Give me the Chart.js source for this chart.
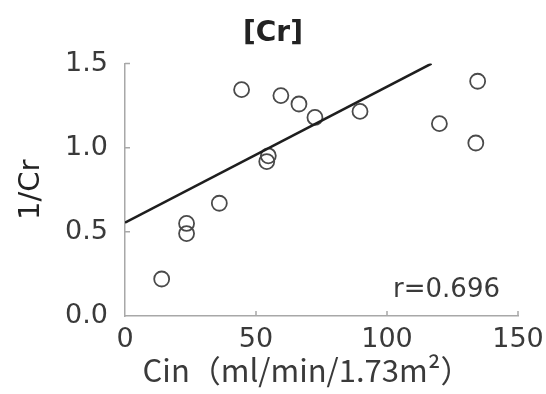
<!DOCTYPE html>
<html>
<head>
<meta charset="utf-8">
<script src="https://cdn.jsdelivr.net/npm/chart.js@4.4.1/dist/chart.umd.min.js"></script>
<style>
  html, body { margin: 0; padding: 0; background: #fff; }
  #wrap { width: 546px; height: 394px; }
</style>
</head>
<body>
<div id="wrap"><canvas id="chart-cr"></canvas></div>
<script>
// Inulin clearance vs reciprocal creatinine
const cinValues   = [14, 23.5, 23.5, 36, 44.5, 54.1, 54.7, 59.5, 66.4, 72.5, 89.7, 120, 133.9, 134.6];
const invCrValues = [0.22, 0.49, 0.55, 0.67, 1.345, 0.918, 0.952, 1.31, 1.26, 1.18, 1.216, 1.143, 1.028, 1.395];

// Regression line end points
const fitX = [0, 117];
const fitY = [0.555, 1.5];

const xTicks = [0, 50, 100, 150];
const yTicks = [0.0, 0.5, 1.0, 1.5];

const titleText = '[Cr]';
const xTitle = 'Cin（ml/min/1.73m²）';
const yTitle = '1/Cr';
const rText = 'r=0.696';

const axisColor = '#a8a8a8';
const textColor = '#3a3a3a';

// Small tick marks pointing into the plot area
const innerTicks = {
  id: 'innerTicks',
  afterDraw(chart) {
    const { ctx, chartArea, scales } = chart;
    ctx.save();
    ctx.strokeStyle = axisColor;
    ctx.lineWidth = 1.5;
    ctx.beginPath();
    xTicks.slice(1).forEach(v => {
      const px = scales.x.getPixelForValue(v);
      ctx.moveTo(px, chartArea.bottom);
      ctx.lineTo(px, chartArea.bottom - 5);
    });
    yTicks.slice(1).forEach(v => {
      const py = scales.y.getPixelForValue(v);
      ctx.moveTo(chartArea.left, py);
      ctx.lineTo(chartArea.left + 5, py);
    });
    ctx.stroke();
    ctx.restore();
  }
};

// Correlation label and x-axis caption
const extraText = {
  id: 'extraText',
  afterDraw(chart) {
    const { ctx, chartArea } = chart;
    ctx.save();
    ctx.fillStyle = textColor;
    ctx.textBaseline = 'middle';
    ctx.font = '26px "DejaVu Sans"';
    ctx.textAlign = 'right';
    ctx.fillText(rText, chartArea.right - 18, chartArea.bottom - 26);
    ctx.font = '31px "Noto Sans CJK JP"';
    ctx.textAlign = 'center';
    ctx.fillText(xTitle, chartArea.left + 182, chartArea.bottom + 54);
    ctx.restore();
  }
};

new Chart(document.getElementById('chart-cr'), {
  type: 'scatter',
  data: {
    datasets: [
      {
        label: 'fit',
        type: 'line',
        data: fitX.map((x, i) => ({ x, y: fitY[i] })),
        borderColor: '#1e1e1e',
        borderWidth: 2.6,
        pointRadius: 0,
        fill: false,
        order: 0,
      },
      {
        label: '1/Cr',
        data: cinValues.map((x, i) => ({ x, y: invCrValues[i] })),
        backgroundColor: 'rgba(0,0,0,0)',
        borderColor: '#4a4a4a',
        borderWidth: 1.8,
        pointRadius: 7.5,
        order: 1,
      },
    ],
  },
  options: {
    responsive: true,
    maintainAspectRatio: false,
    animation: false,
    layout: { padding: 0 },
    plugins: {
      legend: { display: false },
      tooltip: { enabled: false },
      title: {
        display: true,
        text: titleText,
        color: '#222',
        font: { family: 'DejaVu Sans', size: 28, weight: 'bold' },
        padding: { top: 17, bottom: 13 },
      },
    },
    scales: {
      x: {
        type: 'linear',
        min: 0,
        max: 150,
        afterBuildTicks: s => { s.ticks = xTicks.map(v => ({ value: v })); },
        afterFit: s => { s.height = 78; s.paddingRight = 28; s.paddingLeft = 0; },
        grid: { display: false, drawTicks: false },
        border: { color: axisColor, width: 1.5 },
        ticks: {
          color: textColor,
          padding: 8,
          maxRotation: 0,
          font: { family: 'DejaVu Sans', size: 27 },
        },
      },
      y: {
        type: 'linear',
        min: 0,
        max: 1.5,
        afterBuildTicks: s => { s.ticks = yTicks.map(v => ({ value: v })); },
        afterFit: s => { s.width = 125; },
        grid: { display: false, drawTicks: false },
        border: { color: axisColor, width: 1.5 },
        ticks: {
          color: textColor,
          padding: 17,
          font: { family: 'DejaVu Sans', size: 27 },
          callback: v => v.toFixed(1),
        },
        title: {
          display: true,
          text: yTitle,
          color: '#222',
          font: { family: 'DejaVu Sans', size: 29 },
          padding: { top: 14, bottom: 0 },
        },
      },
    },
  },
  plugins: [innerTicks, extraText],
});
</script>
</body>
</html>
